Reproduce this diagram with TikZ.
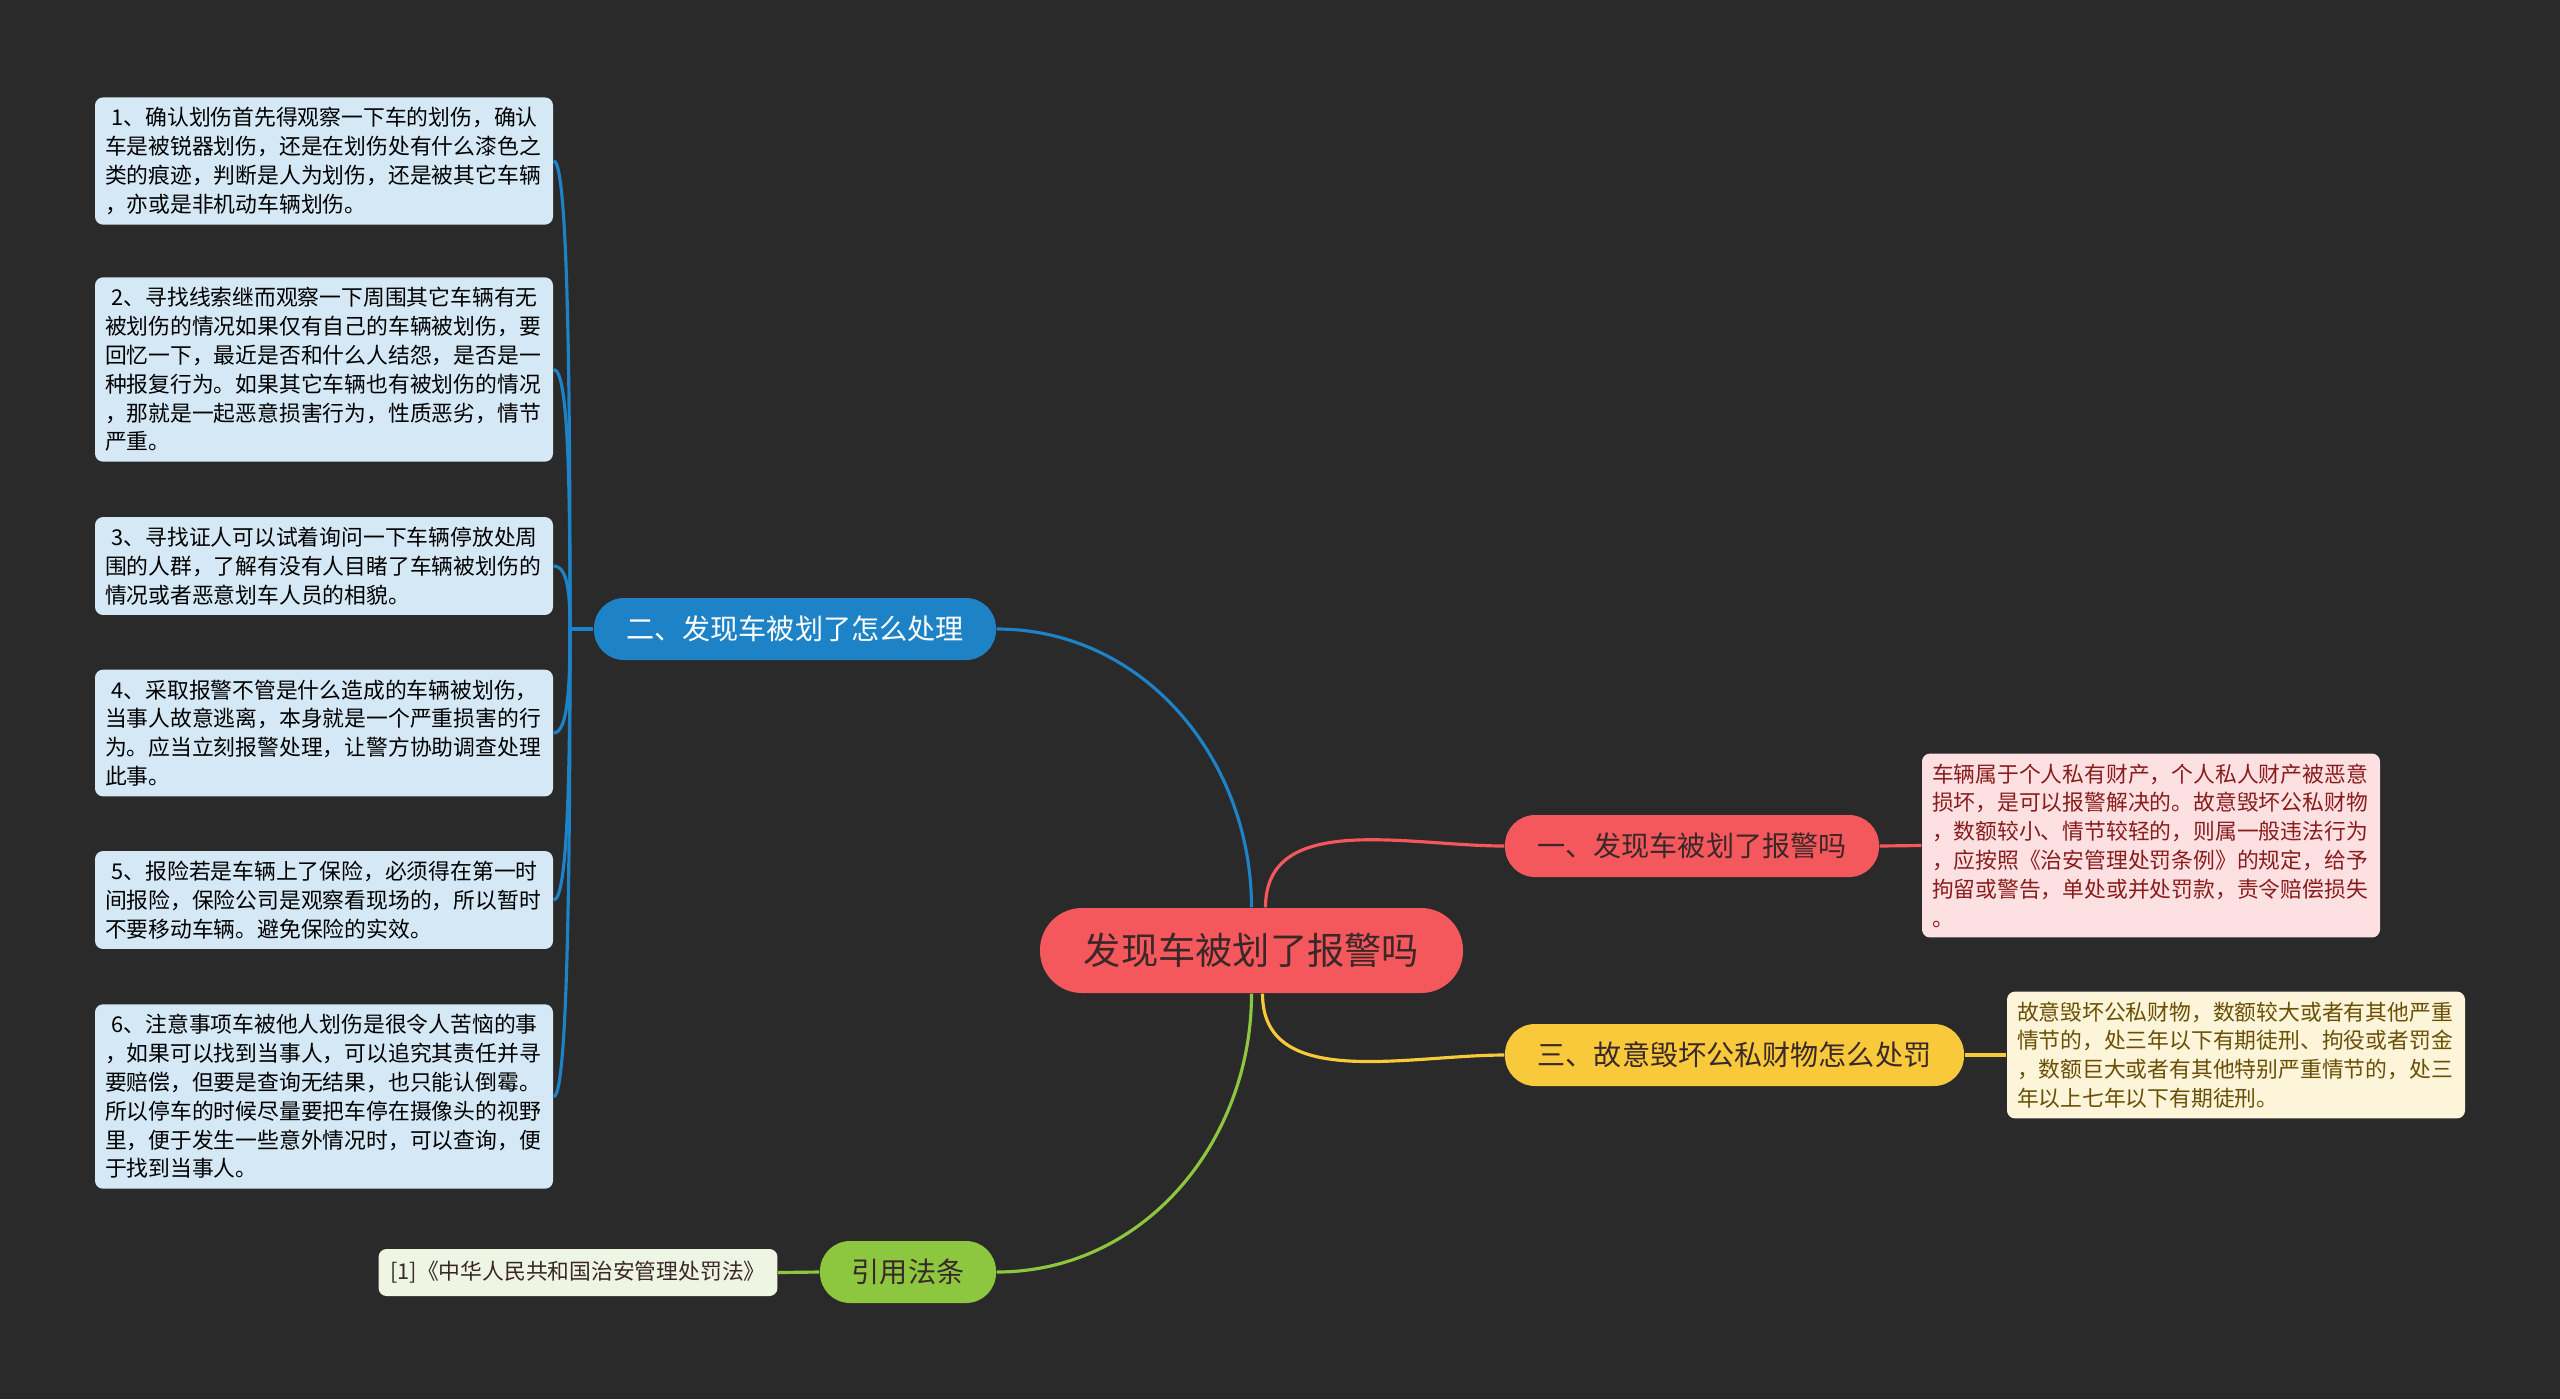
\documentclass[tikz,border=0pt]{standalone}
\usepackage{fontspec}
\setmainfont{Noto Sans CJK SC}
\definecolor{fond}{HTML}{2A2A2A}
\definecolor{rouge}{HTML}{F5585C}
\definecolor{bleu}{HTML}{1D83C6}
\definecolor{jaune}{HTML}{F8C93B}
\definecolor{vert}{HTML}{8DC63F}
\definecolor{texteSombre}{HTML}{3A2828}
\definecolor{feuilleBleu}{HTML}{D5E8F5}
\definecolor{feuilleRouge}{HTML}{FDE1E2}
\definecolor{feuilleJaune}{HTML}{FDF5DA}
\definecolor{feuilleVert}{HTML}{EEF5E2}
\definecolor{texteRouge}{HTML}{8A1C1C}
\definecolor{texteJaune}{HTML}{6A4F05}
\begin{document}
\begin{tikzpicture}[
    racine/.style={rounded corners=0.42cm, fill=rouge, text=texteSombre, minimum width=4.23cm, minimum height=0.85cm, font=\fontsize{10.6}{12}\selectfont},
    branche/.style={rounded corners=0.3cm, minimum height=0.62cm, font=\fontsize{8}{10}\selectfont},
    feuille/.style={rounded corners=0.08cm, text width=4.38cm, align=left, inner xsep=0.1cm, inner ysep=0.1cm, font=\fontsize{6.2}{8.2}\selectfont},
    lien/.style={line width=0.9pt},
]
    % Fond
    \useasboundingbox (0,0) rectangle (25.6,-13.99);
    \fill[fond] (0,0) rectangle (25.6,-13.99);

    % Racine
    \node[racine] (racine) at (12.515,-9.505) {发现车被划了报警吗};

    % Branches
    \node[branche, fill=bleu, text=white, minimum width=4.02cm] (b2) at (7.95,-6.29) {二、发现车被划了怎么处理};
    \node[branche, fill=rouge, text=texteSombre, minimum width=3.74cm] (b1) at (16.92,-8.46) {一、发现车被划了报警吗};
    \node[branche, fill=jaune, text=texteSombre, minimum width=4.59cm] (b3) at (17.345,-10.55) {三、故意毁坏公私财物怎么处罚};
    \node[branche, fill=vert, text=texteSombre, minimum width=1.76cm] (b4) at (9.08,-12.72) {引用法条};

    % Feuilles de la branche 二
    \node[feuille, fill=feuilleBleu] (l1) at (3.24,-1.61) {\hspace{0.3em}1、确认划伤首先得观察一下车的划伤，确认\\车是被锐器划伤，还是在划伤处有什么漆色之\\类的痕迹，判断是人为划伤，还是被其它车辆\\，亦或是非机动车辆划伤。};
    \node[feuille, fill=feuilleBleu] (l2) at (3.24,-3.695) {\hspace{0.3em}2、寻找线索继而观察一下周围其它车辆有无\\被划伤的情况如果仅有自己的车辆被划伤，要\\回忆一下，最近是否和什么人结怨，是否是一\\种报复行为。如果其它车辆也有被划伤的情况\\，那就是一起恶意损害行为，性质恶劣，情节\\严重。};
    \node[feuille, fill=feuilleBleu] (l3) at (3.24,-5.66) {\hspace{0.3em}3、寻找证人可以试着询问一下车辆停放处周\\围的人群，了解有没有人目睹了车辆被划伤的\\情况或者恶意划车人员的相貌。};
    \node[feuille, fill=feuilleBleu] (l4) at (3.24,-7.33) {\hspace{0.3em}4、采取报警不管是什么造成的车辆被划伤，\\当事人故意逃离，本身就是一个严重损害的行\\为。应当立刻报警处理，让警方协助调查处理\\此事。};
    \node[feuille, fill=feuilleBleu] (l5) at (3.24,-9.00) {\hspace{0.3em}5、报险若是车辆上了保险，必须得在第一时\\间报险，保险公司是观察看现场的，所以暂时\\不要移动车辆。避免保险的实效。};
    \node[feuille, fill=feuilleBleu] (l6) at (3.24,-10.965) {\hspace{0.3em}6、注意事项车被他人划伤是很令人苦恼的事\\，如果可以找到当事人，可以追究其责任并寻\\要赔偿，但要是查询无结果，也只能认倒霉。\\所以停车的时候尽量要把车停在摄像头的视野\\里，便于发生一些意外情况时，可以查询，便\\于找到当事人。};

    % Feuilles de droite
    \node[feuille, fill=feuilleRouge, text=texteRouge] (fr) at (21.51,-8.455) {车辆属于个人私有财产，个人私人财产被恶意\\损坏，是可以报警解决的。故意毁坏公私财物\\，数额较小、情节较轻的，则属一般违法行为\\，应按照《治安管理处罚条例》的规定，给予\\拘留或警告，单处或并处罚款，责令赔偿损失\\。};
    \node[feuille, fill=feuilleJaune, text=texteJaune] (fj) at (22.36,-10.55) {故意毁坏公私财物，数额较大或者有其他严重\\情节的，处三年以下有期徒刑、拘役或者罚金\\，数额巨大或者有其他特别严重情节的，处三\\年以上七年以下有期徒刑。};

    % Citation
    \node[rounded corners=0.08cm, fill=feuilleVert, text=texteSombre, minimum width=3.98cm, minimum height=0.47cm, font=\fontsize{6.2}{8.2}\selectfont] (cit) at (5.78,-12.725) {[1]《中华人民共和国治安管理处罚法》};

    % Liens depuis la racine
    \draw[lien, bleu] (racine.north) to[out=90, in=0] (b2.east);
    \draw[lien, rouge] ([xshift=0.14cm]racine.north) to[out=90, in=180] (b1.west);
    \draw[lien, jaune] ([xshift=0.11cm]racine.south) to[out=-90, in=180] (b3.west);
    \draw[lien, vert] (racine.south) to[out=-90, in=0] (b4.east);

    % Liens vers les feuilles
    \coordinate (bsplit) at (5.70,-6.29);
    \draw[lien, bleu] (b2.west) -- (bsplit);
    \foreach \n/\a/\d in {l1/90/2.2, l2/90/1.4, l3/90/0.3, l4/-90/0.5, l5/-90/1.2, l6/-90/2.0}
        \draw[lien, bleu] (\n.east) to[out=0, in=\a, out distance=0.15cm, in distance=\d cm] (bsplit);
    \draw[lien, rouge] (b1.east) -- (fr.west);
    \draw[lien, jaune] (b3.east) -- (fj.west);
    \draw[lien, vert] (b4.west) -- (cit.east);
\end{tikzpicture}
\end{document}
